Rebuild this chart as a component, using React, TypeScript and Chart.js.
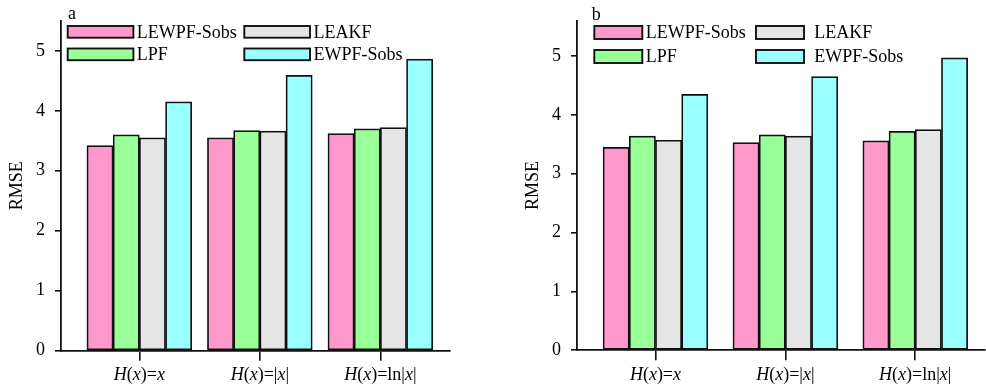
import React, { useEffect, useRef } from "react";
import { Chart, registerables } from "chart.js";

Chart.register(...registerables);

// ---- data ----
const categories = ["H(x)=x", "H(x)=|x|", "H(x)=ln|x|"];
const seriesNames = ["LEWPF-Sobs", "LPF", "LEAKF", "EWPF-Sobs"];
const seriesColors = ["#FF99CC", "#99FF99", "#E5E5E5", "#99FFFF"];

// panel a
const lewpfA = [3.42, 3.55, 3.62];
const lpfA = [3.6, 3.67, 3.7];
const leakfA = [3.55, 3.66, 3.72];
const ewpfA = [4.15, 4.59, 4.86];

// panel b
const lewpfB = [3.45, 3.53, 3.56];
const lpfB = [3.64, 3.66, 3.72];
const leakfB = [3.57, 3.64, 3.75];
const ewpfB = [4.35, 4.65, 4.97];

const yAxisTitle = "RMSE";
const FONT = "'Liberation Serif', 'Times New Roman', serif";

type PanelCfg = {
  letter: string;
  series: number[][];
  yMax: number;
  xMin: number;
  xMax: number;
  padTop: number;
  padRight: number;
  xHeight: number;
  letterX: number;
  letterY: number;
  legend: {
    colX: number[];
    rowY: number[];
    boxW: number;
    boxH: number;
    textGap: number[];
  };
};

const panelA: PanelCfg = {
  letter: "a",
  series: [lewpfA, lpfA, leakfA, ewpfA],
  yMax: 5.5,
  xMin: -0.65,
  xMax: 2.578,
  padTop: 18,
  padRight: 20,
  xHeight: 38.3,
  letterX: 68,
  letterY: 19,
  legend: { colX: [67.7, 244.3], rowY: [26, 48.5], boxW: 65.7, boxH: 11.7, textGap: [3.4, 3.4] },
};

const panelB: PanelCfg = {
  letter: "b",
  series: [lewpfB, lpfB, leakfB, ewpfB],
  yMax: 5.6,
  xMin: -0.604,
  xMax: 2.537,
  padTop: 17.5,
  padRight: 1,
  xHeight: 38.8,
  letterX: 75.7,
  letterY: 20,
  legend: { colX: [78.3, 240], rowY: [26, 50], boxW: 48, boxH: 13, textGap: [3.4, 10.3] },
};

function drawMixedLabel(ctx: CanvasRenderingContext2D, text: string, cx: number, baseline: number) {
  const segs: { t: string; it: boolean }[] = [];
  for (const ch of text) {
    const it = ch === "H" || ch === "x";
    const last = segs[segs.length - 1];
    if (last && last.it === it) last.t += ch;
    else segs.push({ t: ch, it });
  }
  const fontFor = (it: boolean) => `${it ? "italic " : ""}18px ${FONT}`;
  let total = 0;
  for (const s of segs) {
    ctx.font = fontFor(s.it);
    total += ctx.measureText(s.t).width;
  }
  let x = cx - total / 2;
  ctx.textAlign = "left";
  ctx.textBaseline = "alphabetic";
  for (const s of segs) {
    ctx.font = fontFor(s.it);
    ctx.fillText(s.t, x, baseline);
    x += ctx.measureText(s.t).width;
  }
}

function makeOverlayPlugin(cfg: PanelCfg) {
  return {
    id: "overlay",
    afterDraw(chart: any) {
      const ctx: CanvasRenderingContext2D = chart.ctx;
      const xs = chart.scales.x;
      ctx.save();
      ctx.fillStyle = "#000";
      // category labels with italic variables
      categories.forEach((c, i) => {
        drawMixedLabel(ctx, c, xs.getPixelForValue(i), chart.chartArea.bottom + 29.3);
      });
      // panel letter
      ctx.font = `18px ${FONT}`;
      ctx.textAlign = "left";
      ctx.textBaseline = "alphabetic";
      ctx.fillText(cfg.letter, cfg.letterX, cfg.letterY);
      // legend (column-major, 2 rows)
      const lg = cfg.legend;
      chart.data.datasets.forEach((ds: any, i: number) => {
        const col = Math.floor(i / 2);
        const row = i % 2;
        const bx = lg.colX[col];
        const by = lg.rowY[row];
        ctx.fillStyle = ds.backgroundColor;
        ctx.fillRect(bx, by, lg.boxW, lg.boxH);
        ctx.strokeStyle = "#111";
        ctx.lineWidth = 1.9;
        ctx.strokeRect(bx, by, lg.boxW, lg.boxH);
        ctx.fillStyle = "#000";
        ctx.font = `18px ${FONT}`;
        ctx.textBaseline = "middle";
        ctx.fillText(ds.label, bx + lg.boxW + lg.textGap[col], by + lg.boxH / 2 + 1);
      });
      ctx.restore();
    },
  };
}

function Panel({ cfg, left }: { cfg: PanelCfg; left: number }) {
  const ref = useRef<HTMLCanvasElement | null>(null);
  useEffect(() => {
    if (!ref.current) return;
    const chart = new Chart(ref.current, {
      type: "bar",
      data: {
        datasets: cfg.series.map((vals, si) => ({
          label: seriesNames[si],
          data: vals.map((v, i) => ({ x: i, y: v })),
          backgroundColor: seriesColors[si],
          borderColor: "#111",
          borderWidth: 1.7,
          borderSkipped: false,
          barThickness: 26.2,
        })),
      },
      options: {
        animation: false,
        responsive: true,
        maintainAspectRatio: false,
        layout: { padding: { top: cfg.padTop, right: cfg.padRight, left: 0, bottom: 0 } },
        plugins: { legend: { display: false }, tooltip: { enabled: false }, title: { display: false } },
        scales: {
          x: {
            type: "linear",
            min: cfg.xMin,
            max: cfg.xMax,
            offset: false,
            afterBuildTicks: (scale: any) => {
              scale.ticks = categories.map((_, i) => ({ value: i }));
            },
            afterFit: (scale: any) => {
              scale.height = cfg.xHeight;
            },
            ticks: { callback: () => "", font: { family: FONT, size: 18 } },
            grid: {
              offset: false,
              drawOnChartArea: false,
              drawTicks: true,
              tickLength: 10,
              color: "#111",
              lineWidth: 1.6,
            },
            border: { display: true, color: "#111", width: 1.8 },
          },
          y: {
            type: "linear",
            min: 0,
            max: cfg.yMax,
            afterFit: (scale: any) => {
              scale.width = 61;
            },
            ticks: {
              stepSize: 1,
              includeBounds: false,
              padding: 10,
              color: "#000",
              font: { family: FONT, size: 18 },
            },
            grid: {
              drawOnChartArea: false,
              drawTicks: true,
              tickLength: 6,
              color: "#111",
              lineWidth: 1.6,
            },
            border: { display: true, color: "#111", width: 1.8 },
            title: {
              display: true,
              text: yAxisTitle,
              color: "#000",
              font: { family: FONT, size: 18 },
              padding: { top: 6, bottom: 0 },
            },
          },
        },
      },
      plugins: [makeOverlayPlugin(cfg)],
    } as any);
    return () => chart.destroy();
  }, [cfg]);
  return (
    <div style={{ position: "absolute", left, top: 0, width: 470, height: 389 }}>
      <canvas ref={ref} />
    </div>
  );
}

export default function App() {
  return (
    <div style={{ position: "absolute", left: 0, top: 0, width: 986, height: 389, background: "#fff" }}>
      <Panel cfg={panelA} left={0} />
      <Panel cfg={panelB} left={516} />
    </div>
  );
}
